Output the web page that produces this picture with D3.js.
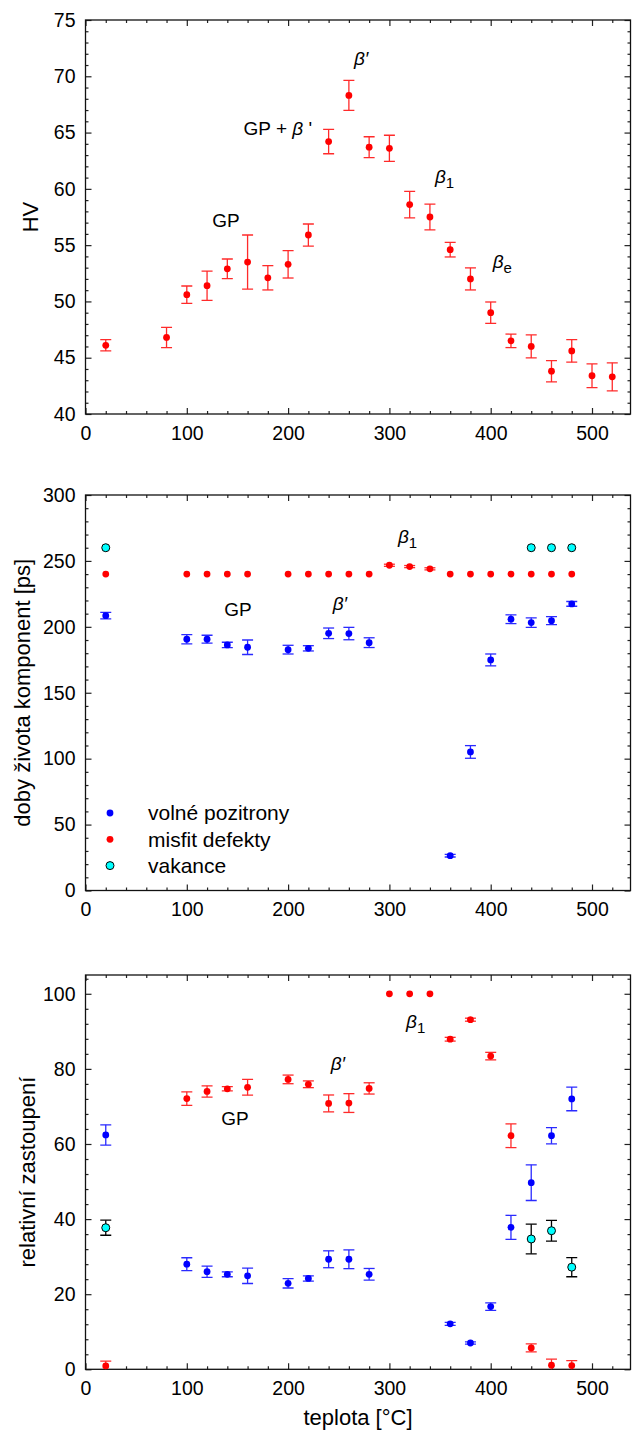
<!DOCTYPE html>
<html>
<head>
<meta charset="utf-8">
<script src="https://d3js.org/d3.v7.min.js"></script>
<style>
    body { margin: 0; background: #fff; }
    svg text { font-family: 'Liberation Sans', Arial, sans-serif; fill: #000; }
    .axis text { font-size: 19.5px; }
    .axis line { stroke: #222; stroke-width: 1.2px; }
    .title { font-size: 22px; }
    .note { font-size: 19px; }
    .legend { font-size: 21px; }
</style>
</head>
<body>
<script>
// teplota stárnutí [°C]
var tempHV = [20, 80, 100, 120, 140, 160, 180, 200, 220, 240, 260, 280, 300, 320, 340, 360, 380, 400, 420, 440, 460, 480, 500, 520];
var hv     = [46.1, 46.8, 50.6, 51.4, 52.9, 53.5, 52.1, 53.3, 55.9, 64.2, 68.3, 63.7, 63.6, 58.6, 57.5, 54.6, 52.0, 49.0, 46.5, 46.0, 43.8, 45.6, 43.4, 43.3];
var hvErr  = [0.5, 0.9, 0.77, 1.3, 0.87, 2.4, 1.08, 1.22, 0.98, 1.08, 1.33, 0.93, 1.16, 1.18, 1.15, 0.65, 0.98, 0.95, 0.6, 1.02, 0.95, 1.0, 1.05, 1.25];

// volné pozitrony
var tempFree   = [20, 100, 120, 140, 160, 200, 220, 240, 260, 280, 360, 380, 400, 420, 440, 460, 480];
var tauFree    = [208.5, 190.6, 190.6, 186.3, 184.5, 182.7, 183.7, 195.1, 194.9, 188.0, 26.4, 105.1, 174.9, 205.8, 203.2, 204.7, 217.4];
var tauFreeErr = [2.5, 3.5, 3.0, 2.0, 5.5, 3.3, 2.0, 4.0, 4.7, 3.7, 1.0, 4.8, 4.5, 3.3, 3.6, 3.0, 1.8];
var intFree    = [62.4, 28.0, 26.0, 25.3, 24.9, 22.9, 24.2, 29.3, 29.3, 25.3, 12.1, 7.0, 16.7, 37.8, 49.7, 62.2, 72.0];
var intFreeErr = [2.7, 1.7, 1.5, 0.65, 2.05, 1.25, 0.7, 2.25, 2.5, 1.55, 0.4, 0.3, 1.0, 3.2, 4.75, 2.15, 3.15];

// misfit defekty
var tempMisfit   = [20, 100, 120, 140, 160, 200, 220, 240, 260, 280, 300, 320, 340, 360, 380, 400, 420, 440, 460, 480];
var tauMisfit    = [240, 240, 240, 240, 240, 240, 240, 240, 240, 240, 246.7, 245.7, 244, 240, 240, 240, 240, 240, 240, 240];
var tauMisfitErr = [0, 0, 0, 0, 0, 0, 0, 0, 0, 0, 0.8, 0.8, 0.8, 0, 0, 0, 0, 0, 0, 0];
var intMisfit    = [0.9, 72.1, 74.0, 74.7, 75.1, 77.2, 75.9, 70.8, 70.9, 74.8, 100, 100, 100, 87.9, 93.1, 83.4, 62.2, 5.7, 1.1, 1.0];
var intMisfitErr = [1.3, 1.8, 1.5, 0.55, 2.1, 1.15, 0.9, 2.25, 2.5, 1.5, 0, 0, 0, 0.5, 0.4, 1.0, 3.15, 1.05, 1.6, 1.3];

// vakance
var tempVac   = [20, 440, 460, 480];
var tauVac    = [260, 260, 260, 260];
var intVac    = [37.7, 34.7, 36.9, 27.2];
var intVacErr = [2.0, 3.95, 2.75, 2.55];

var xTicks = [0, 100, 200, 300, 400, 500];
var legendNames = ["volné pozitrony", "misfit defekty", "vakance"];

var svg = d3.select("body").append("svg")
    .attr("width", 632)
    .attr("height", 1431);

var x = d3.scaleLinear().domain([0, 538]).range([85.5, 630.5]);

function zip(t, v, e) {
    return t.map(function(d, i) { return { t: d, v: v[i], e: e ? e[i] : 0 }; });
}

function panel(id, dom, bot, top, major, minor, title, titleX) {
    var y = d3.scaleLinear().domain(dom).range([bot, top]);
    var g = svg.append("g");

    g.append("clipPath").attr("id", "clip" + id)
        .append("rect")
        .attr("x", x.range()[0]).attr("y", top)
        .attr("width", x.range()[1] - x.range()[0]).attr("height", bot - top);

    var yMaj = d3.range(dom[0], dom[1] + 0.001, major);
    var yMin = d3.range(dom[0], dom[1] + 0.001, minor).filter(function(v) { return Math.abs(v / major - Math.round(v / major)) > 1e-6; });
    var xMin = d3.range(20, 538, 20).filter(function(v) { return v % 100; });

    function ax(gen, vals, size, pos, labels) {
        var a = g.append("g").attr("class", "axis").attr("transform", pos)
            .call(gen.tickValues(vals).tickSize(size).tickSizeOuter(0)
                .tickPadding(labels ? labels : 0)
                .tickFormat(labels ? d3.format("d") : ""));
        a.select(".domain").remove();
        a.attr("font-family", null).attr("font-size", null);
        return a;
    }
    ax(d3.axisBottom(x), xTicks, -6, "translate(0," + bot + ")", 12);
    ax(d3.axisBottom(x), xMin, -3, "translate(0," + bot + ")");
    ax(d3.axisTop(x), xTicks, -6, "translate(0," + top + ")");
    ax(d3.axisTop(x), xMin, -3, "translate(0," + top + ")");
    ax(d3.axisLeft(y), yMaj, -6, "translate(" + x.range()[0] + ",0)", 10);
    ax(d3.axisLeft(y), yMin, -3, "translate(" + x.range()[0] + ",0)");
    ax(d3.axisRight(y), yMaj, -6, "translate(" + x.range()[1] + ",0)");
    ax(d3.axisRight(y), yMin, -3, "translate(" + x.range()[1] + ",0)");

    g.append("rect")
        .attr("x", x.range()[0]).attr("y", top)
        .attr("width", x.range()[1] - x.range()[0]).attr("height", bot - top)
        .attr("fill", "none").attr("stroke", "#111").attr("stroke-width", 1.3);

    g.append("text").attr("class", "title")
        .attr("transform", "translate(" + titleX + "," + (top + bot) / 2 + ") rotate(-90)")
        .attr("text-anchor", "middle")
        .text(title);

    return { g: g, y: y, id: id };
}

function series(p, data, fill, barColor, stroke, r) {
    var s = p.g.append("g").attr("clip-path", "url(#clip" + p.id + ")");
    var bars = s.selectAll(".eb").data(data.filter(function(d) { return d.e > 0; }))
        .enter().append("g").attr("stroke", barColor).attr("stroke-width", 1.3);
    bars.append("line")
        .attr("x1", function(d) { return x(d.t); }).attr("x2", function(d) { return x(d.t); })
        .attr("y1", function(d) { return p.y(d.v - d.e); }).attr("y2", function(d) { return p.y(d.v + d.e); });
    [-1, 1].forEach(function(k) {
        bars.append("line")
            .attr("x1", function(d) { return x(d.t) - 5.5; }).attr("x2", function(d) { return x(d.t) + 5.5; })
            .attr("y1", function(d) { return p.y(d.v + k * d.e); }).attr("y2", function(d) { return p.y(d.v + k * d.e); });
    });
    s.selectAll(".dot").data(data).enter().append("circle")
        .attr("cx", function(d) { return x(d.t); })
        .attr("cy", function(d) { return p.y(d.v); })
        .attr("r", r)
        .attr("fill", fill)
        .attr("stroke", stroke || "none")
        .attr("stroke-width", 1);
}

function note(p, t, v, main, sub, rest) {
    var tx = p.g.append("text").attr("class", "note")
        .attr("x", x(t)).attr("y", p.y(v));
    if (rest === "plus") {
        tx.append("tspan").text("GP + ");
        tx.append("tspan").attr("font-style", "italic").text("β");
        tx.append("tspan").text(" '");
        return;
    }
    tx.append("tspan").attr("font-style", main === "GP" ? null : "italic").text(main);
    if (sub) {
        tx.append("tspan").attr("font-size", "15px").attr("dy", 5).text(sub);
    }
}

// HV
var p1 = panel(1, [40, 75], 414, 20, 5, 1, "HV", 38);
series(p1, zip(tempHV, hv, hvErr), "#ff0000", "#ff2a2a", null, 3.4);
note(p1, 265, 71.0, "β′");
note(p1, 156, 64.8, null, null, "plus");
note(p1, 125, 56.6, "GP");
note(p1, 345, 60.5, "β", "1");
note(p1, 402, 53.0, "β", "e");

// doby života
var p2 = panel(2, [0, 300], 890.5, 495, 50, 10, "doby života komponent [ps]", 30);
series(p2, zip(tempFree, tauFree, tauFreeErr), "#0000ff", "#2a2aff", null, 3.4);
series(p2, zip(tempMisfit, tauMisfit, tauMisfitErr), "#ff0000", "#ff2a2a", null, 3.4);
series(p2, zip(tempVac, tauVac), "#00ffff", "#000", "#000", 4);
note(p2, 308.5, 263.7, "β", "1");
note(p2, 137, 208.5, "GP");
note(p2, 244, 213, "β′");

var legColors = [["#0000ff", null, 3.4], ["#ff0000", null, 3.4], ["#00ffff", "#000", 4]];
var leg = p2.g.selectAll(".legend").data(legendNames).enter().append("g")
    .attr("class", "legend")
    .attr("transform", function(d, i) { return "translate(110," + (813 + i * 26.3) + ")"; });
leg.append("circle")
    .attr("r", function(d, i) { return legColors[i][2]; })
    .attr("fill", function(d, i) { return legColors[i][0]; })
    .attr("stroke", function(d, i) { return legColors[i][1] || "none"; });
leg.append("text").attr("x", 38).attr("dy", "0.35em").text(function(d) { return d; });

// relativní zastoupení
var p3 = panel(3, [0, 105], 1369.3, 975, 20, 4, "relativní zastoupení", 35);
series(p3, zip(tempFree, intFree, intFreeErr), "#0000ff", "#2a2aff", null, 3.4);
series(p3, zip(tempMisfit, intMisfit, intMisfitErr), "#ff0000", "#ff2a2a", null, 3.4);
series(p3, zip(tempVac, intVac, intVacErr), "#00ffff", "#000", "#000", 4);
note(p3, 134, 65, "GP");
note(p3, 242, 79.6, "β′");
note(p3, 316.4, 90.8, "β", "1");

svg.append("text").attr("class", "title")
    .attr("x", (x.range()[0] + x.range()[1]) / 2)
    .attr("y", 1425)
    .attr("text-anchor", "middle")
    .text("teplota [°C]");
</script>
</body>
</html>
